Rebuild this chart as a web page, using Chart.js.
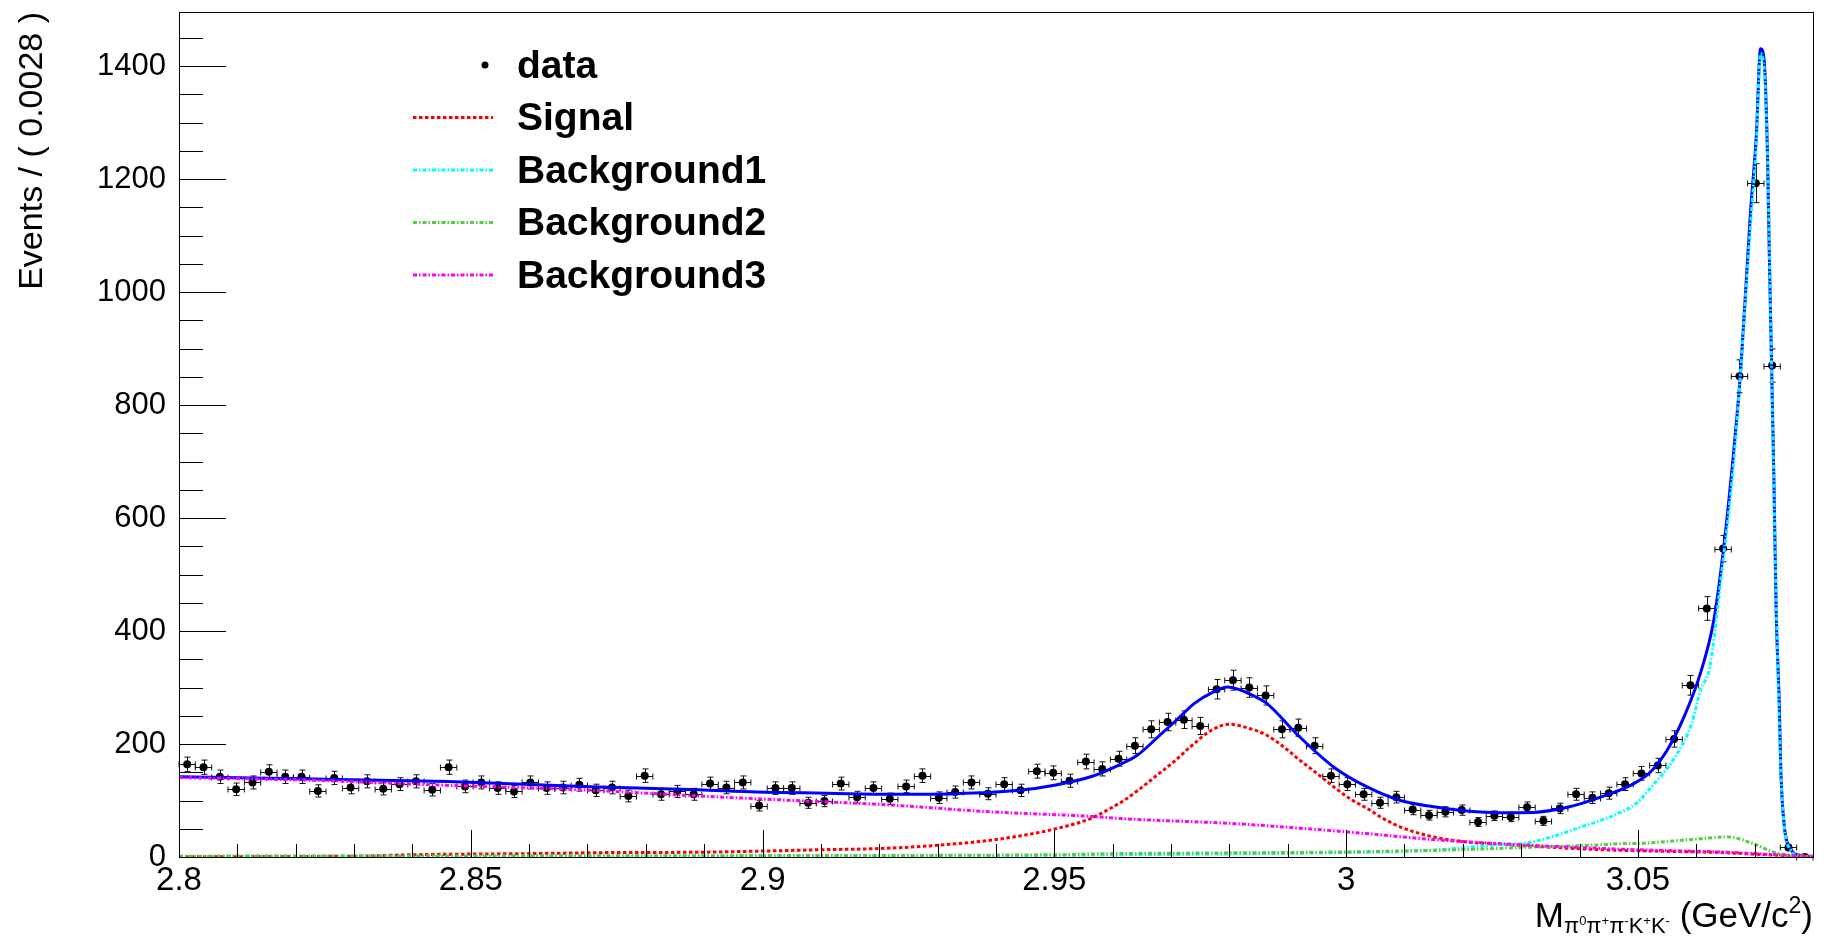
<!DOCTYPE html>
<html>
<head>
<meta charset="utf-8">
<title>M(π0π+π-K+K-) fit</title>
<script src="https://cdn.jsdelivr.net/npm/chart.js@4.4.1/dist/chart.umd.min.js"></script>
<style>
  html, body { margin: 0; padding: 0; background: #ffffff; }
  #wrap { width: 1826px; height: 939px; }
</style>
</head>
<body>
<div id="wrap"><canvas id="c" width="1826" height="939"></canvas></div>
<script>
// ---- histogram binning ----
const xMin = 2.8, xMax = 3.08, binWidth = 0.0028;
const yMax = 1496;

// events per bin (100 bins of 0.0028 GeV/c^2)
const counts = [
  164, 159, 142, 120, 132, 151, 142, 142, 117, 140,
  123, 134, 121, 129, 134, 119, 159, 125, 132, 122,
  116, 132, 122, 123, 128, 118, 123, 108, 144, 111,
  116, 111, 130, 123, 132,  91, 122, 122,  96,  99,
  130, 106, 122, 103, 125, 144, 105, 115, 132, 112,
  129, 118, 152, 149, 135, 169, 156, 174, 197, 226,
  239, 243, 232, 297, 313, 300, 286, 226, 229, 197,
  144, 129, 111,  96, 106,  84,  74,  80,  83,  62,
   73,  71,  88,  64,  86, 111, 105, 113, 129, 148,
  162, 209, 304, 440, 546, 851, 1193, 870, 17,   0
];

// axis ticks
const xTickValues = [2.8, 2.85, 2.9, 2.95, 3.0, 3.05];
const xTickLabels = ['2.8', '2.85', '2.9', '2.95', '3', '3.05'];
const yTickValues = [0, 200, 400, 600, 800, 1000, 1200, 1400];
const yTickLabels = ['0', '200', '400', '600', '800', '1000', '1200', '1400'];

// total fit
const totalX = [2.800, 2.823, 2.846, 2.869, 2.889, 2.899, 2.911, 2.922, 2.933, 2.944,
  2.950, 2.9565, 2.9615, 2.9642, 2.968, 2.971, 2.974, 2.9772, 2.9797, 2.9844,
  2.9864, 2.9918, 2.9979, 3.0036, 3.0093, 3.015, 3.0207, 3.0264, 3.0321, 3.0379,
  3.0436, 3.0493, 3.0521, 3.055, 3.0579, 3.0607, 3.0630, 3.0647, 3.0665, 3.0676,
  3.0693, 3.0703, 3.0710, 3.0716, 3.0722, 3.0725, 3.0729, 3.0733, 3.0737, 3.0742,
  3.0745, 3.0751, 3.0762, 3.0773, 3.0800];
const totalY = [142, 138, 133.5, 125, 119, 115, 113, 111, 112, 118,
  127, 143, 165, 180, 215, 243, 272, 292, 301, 284,
  272, 215, 159, 124, 100, 89, 81.5, 78.5, 79, 88,
  106, 130, 150, 189, 248, 325, 419, 548, 728, 860,
  1143, 1279, 1431, 1414, 1244, 1075, 872, 669, 430, 278,
  149, 53, 14, 4, 1];

// signal component
const signalX = [2.800, 2.830, 2.840, 2.860, 2.876, 2.888, 2.900, 2.9105, 2.9202, 2.9299,
  2.939, 2.9447, 2.9504, 2.9562, 2.959, 2.9619, 2.9647, 2.9676, 2.9704, 2.9733,
  2.9767, 2.9799, 2.9836, 2.9864, 2.9893, 2.9921, 2.995, 2.9979, 3.0007, 3.0036,
  3.0064, 3.0093, 3.015, 3.0207, 3.0264, 3.0321, 3.0436, 3.055, 3.064, 3.072, 3.080];
const signalY = [0.5, 1.5, 4, 6, 8, 8.3, 10.5, 13, 15, 20.7,
  29.6, 38.4, 50.3, 68, 82.7, 100, 121, 145, 168, 195,
  223, 235, 227, 215.5, 195, 171, 148, 124, 103, 86,
  68, 53, 35.4, 26.6, 22.5, 19, 13, 10, 8, 4, 1];

// background 1 (peaking)
const bkg1X = [2.800, 2.900, 2.950, 2.975, 3.000, 3.015, 3.0207, 3.0264, 3.0302, 3.034,
  3.0402, 3.0466, 3.0497, 3.0528, 3.056, 3.0592, 3.0607, 3.0623, 3.0642, 3.0665,
  3.0693, 3.0703, 3.0710, 3.0716, 3.0722, 3.0729, 3.0737, 3.0745, 3.0751, 3.0762,
  3.0773, 3.080];
const bkg1Y = [1, 2, 3, 5, 8, 12, 17, 22, 24, 32,
  53, 77, 95, 130, 171, 236, 295, 336, 490, 710,
  1120, 1265, 1422, 1400, 1240, 870, 450, 150, 52, 12,
  3, 0.5];

// background 2
const bkg2X = [2.800, 2.900, 2.950, 2.960, 2.975, 3.000, 3.0093, 3.020, 3.032, 3.0436,
  3.0466, 3.051, 3.0592, 3.0654, 3.0699, 3.0731, 3.076, 3.080];
const bkg2Y = [1.5, 2.5, 4, 6, 7, 9, 10.6, 13, 17.5, 21.5,
  23.5, 24.5, 31, 35.5, 23, 9, 3, 0.5];

// background 3 (smooth continuum)
const bkg3X = [2.800, 2.8229, 2.8457, 2.8686, 2.8891, 2.9047, 2.9219, 2.939, 2.9562, 2.9615,
  2.9811, 2.9921, 3.0036, 3.015, 3.0264, 3.0379, 3.0493, 3.064, 3.072, 3.080];
const bkg3Y = [140.6, 135.8, 127, 119, 108, 100.4, 92, 80, 72, 68,
  59, 51, 41.4, 30.8, 23.7, 17.7, 13, 8.9, 5, 0.5];

const legendNames = ['data', 'Signal', 'Background1', 'Background2', 'Background3'];

const FONT = "'Liberation Sans', Arial, Helvetica, sans-serif";
const pairs = (xs, ys) => xs.map((v, i) => ({ x: v, y: ys[i] }));
const binCenters = counts.map((_, i) => xMin + (i + 0.5) * binWidth);

const curveStyle = (color, dash, order) => ({
  type: 'line',
  borderColor: color,
  borderWidth: 3,
  borderDash: dash,
  pointRadius: 0,
  fill: false,
  cubicInterpolationMode: 'monotone',
  order: order
});

const datasets = [
  {
    type: 'scatter', label: legendNames[0],
    data: pairs(binCenters, counts),
    pointRadius: 4, pointBackgroundColor: '#000', pointBorderWidth: 0,
    order: 6
  },
  Object.assign({ label: 'total', data: pairs(totalX, totalY) }, curveStyle('#0000ff', [], 5)),
  Object.assign({ label: legendNames[1], data: pairs(signalX, signalY) }, curveStyle('#ff0000', [3.5, 2.5], 4)),
  Object.assign({ label: legendNames[2], data: pairs(bkg1X, bkg1Y) }, curveStyle('#00ffff', [4, 2, 1.5, 2], 3)),
  Object.assign({ label: legendNames[3], data: pairs(bkg2X, bkg2Y) }, curveStyle('#55cc44', [4, 2, 1.5, 2], 2)),
  Object.assign({ label: legendNames[4], data: pairs(bkg3X, bkg3Y) }, curveStyle('#ff00ff', [4, 2, 1.5, 2], 1))
];

// draws a run of text pieces with different sizes / vertical shifts
function drawRich(ctx, pieces, xRight, baseY) {
  let total = 0;
  pieces.forEach(p => { ctx.font = p.size + 'px ' + FONT; p.w = ctx.measureText(p.t).width; total += p.w; });
  let cx = xRight - total;
  pieces.forEach(p => {
    ctx.font = p.size + 'px ' + FONT;
    ctx.fillText(p.t, cx, baseY + (p.dy || 0));
    cx += p.w;
  });
}

const rootStyle = {
  id: 'rootStyle',
  beforeDatasetsDraw(chart) {
    const { ctx, scales: { x, y } } = chart;
    ctx.save();
    ctx.strokeStyle = '#111';
    ctx.lineWidth = 1;
    ctx.beginPath();
    counts.forEach((n, i) => {
      const xc = binCenters[i];
      const px = Math.round(x.getPixelForValue(xc)) + 0.5;
      const pl = x.getPixelForValue(xc - binWidth / 2);
      const pr = x.getPixelForValue(xc + binWidth / 2);
      const py = Math.round(y.getPixelForValue(n)) + 0.5;
      const err = Math.sqrt(n);
      const pt = y.getPixelForValue(n + err);
      const pb = y.getPixelForValue(Math.max(0, n - err));
      ctx.moveTo(pl, py); ctx.lineTo(pr, py);
      ctx.moveTo(pl, py - 3); ctx.lineTo(pl, py + 3);
      ctx.moveTo(pr, py - 3); ctx.lineTo(pr, py + 3);
      if (err > 0) {
        ctx.moveTo(px, pt); ctx.lineTo(px, pb);
        ctx.moveTo(px - 3, pt); ctx.lineTo(px + 3, pt);
        ctx.moveTo(px - 3, pb); ctx.lineTo(px + 3, pb);
      }
    });
    ctx.stroke();
    ctx.restore();
  },
  afterDraw(chart) {
    const { ctx, chartArea: a, scales: { x, y } } = chart;
    ctx.save();
    // frame
    ctx.strokeStyle = '#000';
    ctx.lineWidth = 1;
    ctx.strokeRect(Math.round(a.left) + 0.5, Math.round(a.top) + 0.5,
      Math.round(a.right - a.left), Math.round(a.bottom - a.top));
    // y ticks (major every 200, minor every 50)
    ctx.beginPath();
    for (let v = 0; v < yMax; v += 50) {
      const py = Math.round(y.getPixelForValue(v)) + 0.5;
      const len = (v % 200 === 0) ? 47 : 24;
      ctx.moveTo(a.left, py); ctx.lineTo(a.left + len, py);
    }
    // x ticks (major every 0.05, minor every 0.01)
    for (let k = 0; k <= 28; k++) {
      const v = xMin + k * 0.01;
      const px = Math.round(x.getPixelForValue(v)) + 0.5;
      const len = (k % 5 === 0) ? 27 : 13;
      ctx.moveTo(px, a.bottom); ctx.lineTo(px, a.bottom - len);
    }
    ctx.stroke();

    // axis titles
    ctx.fillStyle = '#000';
    ctx.textBaseline = 'alphabetic';
    ctx.textAlign = 'left';
    drawRich(ctx, [
      { t: 'M', size: 35 },
      { t: 'π', size: 22, dy: 6 }, { t: '0', size: 13, dy: -2 },
      { t: 'π', size: 22, dy: 6 }, { t: '+', size: 13, dy: -2 },
      { t: 'π', size: 22, dy: 6 }, { t: '-', size: 13, dy: -2 },
      { t: 'K', size: 22, dy: 6 }, { t: '+', size: 13, dy: -2 },
      { t: 'K', size: 22, dy: 6 }, { t: '-', size: 13, dy: -2 },
      { t: ' (GeV/c', size: 35 },
      { t: '2', size: 23, dy: -14 },
      { t: ')', size: 35 }
    ], a.right, 927);

    ctx.save();
    ctx.translate(42, a.top);
    ctx.rotate(-Math.PI / 2);
    ctx.textAlign = 'right';
    ctx.font = '34px ' + FONT;
    ctx.fillText('Events / ( 0.0028 )', 0, 0);
    ctx.restore();

    // legend
    const rowY = [65, 117.5, 170, 222.5, 275];
    ctx.font = 'bold 39px ' + FONT;
    ctx.textAlign = 'left';
    ctx.textBaseline = 'middle';
    legendNames.forEach((name, i) => {
      const ds = chart.data.datasets.find(d => d.label === name);
      const yy = rowY[i];
      if (i === 0) {
        ctx.beginPath();
        ctx.arc(485, yy, 3.5, 0, Math.PI * 2);
        ctx.fillStyle = '#000';
        ctx.fill();
      } else {
        ctx.save();
        ctx.strokeStyle = ds.borderColor;
        ctx.lineWidth = 3;
        ctx.setLineDash(ds.borderDash);
        ctx.beginPath();
        ctx.moveTo(413, yy); ctx.lineTo(493, yy);
        ctx.stroke();
        ctx.restore();
      }
      ctx.fillStyle = '#000';
      ctx.fillText(name, 517, yy + 2);
    });
    ctx.restore();
  }
};

new Chart(document.getElementById('c'), {
  data: { datasets: datasets },
  options: {
    responsive: false,
    animation: false,
    devicePixelRatio: 1,
    layout: { padding: { top: 12, right: 13, left: 0, bottom: 0 } },
    plugins: { legend: { display: false }, tooltip: { enabled: false } },
    scales: {
      x: {
        type: 'linear', min: xMin, max: xMax,
        afterFit: s => { s.height = 82; s.paddingLeft = 0; s.paddingRight = 0; },
        afterBuildTicks: s => { s.ticks = xTickValues.map(v => ({ value: v })); },
        grid: { display: false, drawTicks: false },
        border: { display: false },
        ticks: {
          autoSkip: false, maxRotation: 0, padding: 4, color: '#000',
          font: { family: FONT, size: 33 },
          callback: (v, i) => xTickLabels[i]
        }
      },
      y: {
        type: 'linear', min: 0, max: yMax,
        afterFit: s => { s.width = 179; s.paddingTop = 0; s.paddingBottom = 0; },
        afterBuildTicks: s => { s.ticks = yTickValues.map(v => ({ value: v })); },
        grid: { display: false, drawTicks: false },
        border: { display: false },
        ticks: {
          autoSkip: false, padding: 13, color: '#000',
          font: { family: FONT, size: 31 },
          callback: (v, i) => yTickLabels[i]
        }
      }
    }
  },
  plugins: [rootStyle]
});
</script>
</body>
</html>
